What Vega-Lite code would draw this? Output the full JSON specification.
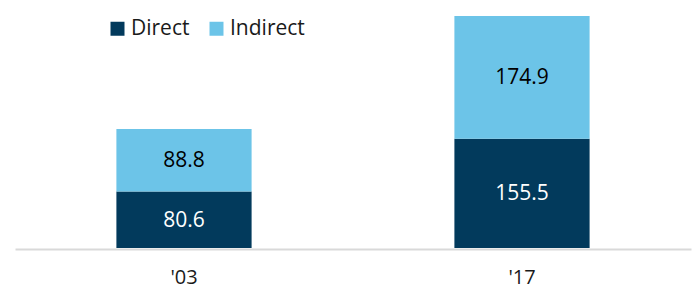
{
  "$schema": "https://vega.github.io/schema/vega-lite/v6.json",
  "autosize": {"type": "none"},
  "padding": {"left": 15, "top": 16, "right": 3, "bottom": 40},
  "width": 676,
  "height": 232,
  "background": "white",
  "config": {
    "view": {"stroke": null},
    "font": "Open Sans"
  },
  "data": {
    "values": [
      {"year": "'03", "type": "Direct", "value": 80.6},
      {"year": "'03", "type": "Indirect", "value": 88.8},
      {"year": "'17", "type": "Direct", "value": 155.5},
      {"year": "'17", "type": "Indirect", "value": 174.9}
    ]
  },
  "transform": [
    {"stack": "value", "groupby": ["year"], "sort": [{"field": "type", "order": "ascending"}], "as": ["v0", "v1"]}
  ],
  "encoding": {
    "x": {
      "field": "year",
      "type": "nominal",
      "sort": null,
      "scale": {"paddingInner": 0.6, "paddingOuter": 0.3},
      "axis": {
        "title": null,
        "labelAngle": 0,
        "labelFontSize": 20,
        "labelColor": "#1a1a1a",
        "labelPadding": 18,
        "ticks": false,
        "domainColor": "#d9d9d9",
        "domainWidth": 2,
        "offset": 1,
        "grid": false
      }
    }
  },
  "layer": [
    {
      "mark": {"type": "bar"},
      "encoding": {
        "y": {"field": "v0", "type": "quantitative", "scale": {"domain": [0, 330.4], "nice": false}, "axis": null},
        "y2": {"field": "v1"},
        "color": {
          "field": "type",
          "type": "nominal",
          "scale": {"domain": ["Direct", "Indirect"], "range": ["#023a5c", "#6cc4e8"]},
          "legend": {
            "title": null,
            "orient": "none",
            "direction": "horizontal",
            "legendX": 92,
            "legendY": 2,
            "symbolType": "square",
            "symbolSize": 196,
            "symbolStrokeWidth": 0,
            "symbolOpacity": 1,
            "labelFontSize": 21,
            "labelColor": "#1a1a1a",
            "labelOffset": 3,
            "columnPadding": 16
          }
        }
      }
    },
    {
      "transform": [
        {"fold": ["v0", "v1"], "as": ["edge", "pos"]},
        {"aggregate": [{"op": "mean", "field": "pos", "as": "mid"}], "groupby": ["year", "type", "value"]}
      ],
      "mark": {"type": "text", "fontSize": 21, "baseline": "middle", "dy": 1},
      "encoding": {
        "y": {"field": "mid", "type": "quantitative"},
        "text": {"field": "value", "type": "quantitative", "format": ".1f"},
        "color": {
          "condition": {"test": "datum.type === 'Direct'", "value": "#ffffff"},
          "value": "#000000"
        }
      }
    }
  ]
}
